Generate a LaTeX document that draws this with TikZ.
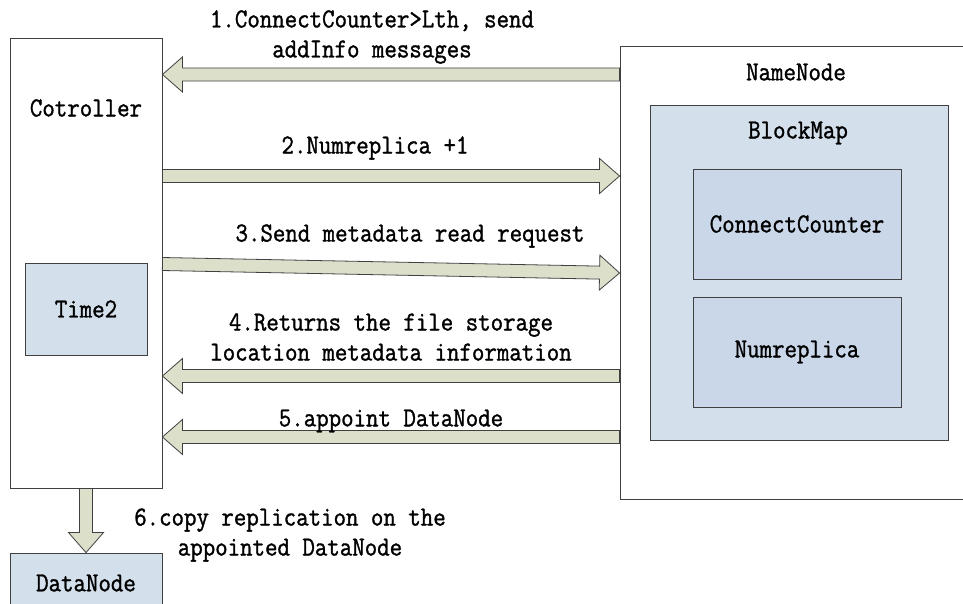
\documentclass[tikz,border=0pt]{standalone}
\usepackage{fontspec}
\setmonofont[FakeBold=1.2,FakeStretch=0.88]{Latin Modern Mono}
\usetikzlibrary{calc}
\definecolor{boxblue}{HTML}{D3DFEB}
\definecolor{innerblue}{HTML}{C9D7E8}
\definecolor{arrowfill}{HTML}{DCE0CB}
\definecolor{edgegray}{HTML}{404040}
\newcommand{\fatarrow}[2]{%
  \path[fat] ($(#1)!6.5pt!90:(#2)$) -- ($($(#2)!20pt!(#1)$)!6.5pt!90:(#2)$)
    -- ($($(#2)!20pt!(#1)$)!17.5pt!90:(#2)$) -- (#2)
    -- ($($(#2)!20pt!(#1)$)!17.5pt!-90:(#2)$)
    -- ($($(#2)!20pt!(#1)$)!6.5pt!-90:(#2)$)
    -- ($(#1)!6.5pt!-90:(#2)$) -- cycle;}
\begin{document}
\begin{tikzpicture}[x=1pt,y=-1pt,
  every node/.style={font=\ttfamily\fontsize{27.5}{30}\selectfont, text=black},
  frame/.style={draw=edgegray, line width=0.9pt, fill=white, inner sep=0pt},
  bluebox/.style={draw=edgegray, line width=0.9pt, fill=boxblue, inner sep=0pt},
  innerbox/.style={draw=edgegray, line width=0.9pt, fill=innerblue, inner sep=0pt},
  fat/.style={draw=edgegray, line width=0.8pt, fill=arrowfill, line join=miter},
  lbl/.style={align=center, inner sep=0pt}]
\useasboundingbox (0,0) rectangle (963,603);
% boxes
\node[frame, minimum width=152pt, minimum height=450pt] (ctrl) at (86,263) {};
\node[lbl] (ctrlt) at (86,108) {Cotroller};
\node[bluebox, minimum width=122pt, minimum height=92pt] (time) at (86,309) {Time2};
\node[bluebox, minimum width=152pt, minimum height=60pt] (dn) at (86,583) {};
\node[lbl] (dnt) at (86,583) {DataNode};
\node[frame, minimum width=355pt, minimum height=453pt] (nn) at (797.5,272.5) {};
\node[lbl] (nnt) at (796,72) {NameNode};
\node[bluebox, minimum width=298pt, minimum height=335pt] (bm) at (799,272.5) {};
\node[lbl] (bmt) at (798,133) {BlockMap};
\node[innerbox, minimum width=208pt, minimum height=110pt] (cc) at (797,224) {ConnectCounter};
\node[innerbox, minimum width=208pt, minimum height=110pt] (nr) at (797,352) {Numreplica};
% arrow endpoints
\coordinate (a1s) at (nn.west |- 0,74.5);
\coordinate (a1e) at (ctrl.east |- 0,74.5);
\coordinate (a2s) at (ctrl.east |- 0,176);
\coordinate (a2e) at (nn.west |- 0,176);
\coordinate (a3s) at (ctrl.east |- 0,264);
\coordinate (a3e) at (nn.west |- 0,273);
\coordinate (a4s) at (nn.west |- 0,376);
\coordinate (a4e) at (ctrl.east |- 0,376);
\coordinate (a5s) at (nn.west |- 0,437);
\coordinate (a5e) at (ctrl.east |- 0,437);
\coordinate (a6s) at (ctrl.south);
\coordinate (a6e) at (dn.north);
\fatarrow{a1s}{a1e}
\fatarrow{a2s}{a2e}
\fatarrow{a3s}{a3e}
\fatarrow{a4s}{a4e}
\fatarrow{a5s}{a5e}
\fatarrow{a6s}{a6e}
% labels
\node[lbl] (l1) at (372,37) {1.ConnectCounter>Lth, send\\addInfo messages};
\node[lbl] (l2) at (375,148) {2.Numreplica +1};
\node[lbl] (l3) at (410,236) {3.Send metadata read request};
\node[lbl] (l4) at (391,337) {4.Returns the file storage\\location metadata information};
\node[lbl] (l5) at (391,421) {5.appoint DataNode};
\node[lbl] (l6) at (290,535) {6.copy replication on the\\appointed DataNode};
\end{tikzpicture}
\end{document}
